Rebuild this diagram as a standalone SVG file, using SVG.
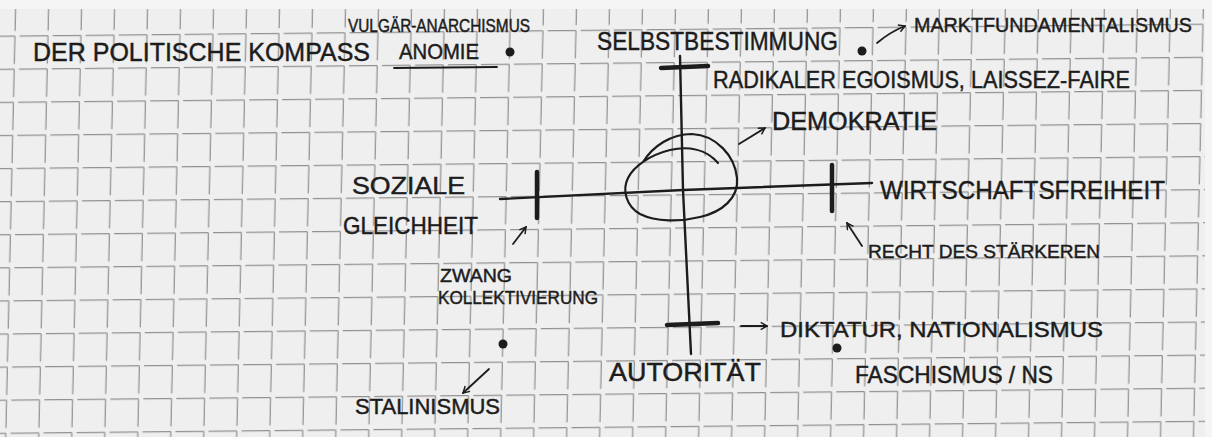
<svg xmlns="http://www.w3.org/2000/svg" width="1212" height="437" viewBox="0 0 1212 437">
<defs>
<pattern id="grid" patternUnits="userSpaceOnUse" x="0" y="0" width="33" height="33.1" patternTransform="matrix(1 -0.01 -0.023 1 -17.3 35.8)">
<path d="M4 0.7 H32.3 M32.3 0.7 V28.5" fill="none" stroke="#8f8f8f" stroke-width="1.2"/>
</pattern>
<marker id="head" viewBox="0 0 10 10" refX="8" refY="5" markerWidth="9" markerHeight="9" orient="auto" markerUnits="userSpaceOnUse">
<path d="M1 1 L8 5 L1 9" fill="none" stroke="#1c1c1c" stroke-width="1.6"/>
</marker>
</defs>
<style>
.ink{fill:#1c1c1c;stroke:#1c1c1c;stroke-width:0.45;font-family:"Liberation Sans",Arial,sans-serif;}
.line{fill:none;stroke:#1c1c1c;stroke-linecap:round;stroke-linejoin:round;}
.axis{stroke-width:2.4;}
.tick{stroke-width:4.5;}
.thin{stroke-width:1.8;}
.dot{fill:#1c1c1c;}
</style>
<rect x="0" y="0" width="1212" height="437" fill="#efefef"/>
<rect x="0" y="0" width="1212" height="437" fill="url(#grid)"/>
<rect x="0" y="0" width="1212" height="9" fill="#f5f5f5"/>
<rect x="1205" y="0" width="7" height="437" fill="#f5f5f5"/>

<g id="connectors">
<path class="line axis" d="M680 56 L683 190 L691 354"/>
<path class="line axis" d="M500 199 L683 190 L872 183"/>
<path class="line tick" d="M661 68 L708 66"/>
<path class="line tick" d="M667 325 L718 323"/>
<path class="line tick" d="M537 172 L537 218"/>
<path class="line tick" d="M832 165 L832 211"/>
<path class="line thin" d="M877 43 Q890 32 905 26" marker-end="url(#head)"/>
<path class="line thin" d="M739 144 L765 128" marker-end="url(#head)"/>
<path class="line thin" d="M513 244 L526 227" marker-end="url(#head)"/>
<path class="line thin" d="M862 246 L847 223" marker-end="url(#head)"/>
<path class="line thin" d="M741 326 L767 326" marker-end="url(#head)"/>
<path class="line thin" d="M489 369 L463 393" marker-end="url(#head)"/>
</g>

<g id="demokratie-loop">
<path class="line" stroke-width="2.2" d="M643 162 C653 146 671 134 692 134 C716 135 735 156 737 178 C739 198 722 212 700 217 C680 222 656 222 640 214 C626 206 622 190 628 178 C634 166 650 155 670 150 C688 146 706 149 718 163"/>
</g>

<g id="title"><text class="ink" x="33" y="61" font-size="26" textLength="337" lengthAdjust="spacingAndGlyphs">DER POLITISCHE KOMPASS</text></g>
<g id="vulgaer-anarchismus"><text class="ink" x="348" y="32" font-size="18" textLength="182" lengthAdjust="spacingAndGlyphs">VULGÄR-ANARCHISMUS</text></g>
<g id="anomie">
<text class="ink" x="399" y="59" font-size="22" textLength="80" lengthAdjust="spacingAndGlyphs">ANOMIE</text>
<path class="line thin" d="M394 68 L497 67"/>
<circle class="dot" cx="510" cy="52" r="4.5"/>
</g>
<g id="selbstbestimmung">
<text class="ink" x="597" y="50" font-size="26" textLength="241" lengthAdjust="spacingAndGlyphs">SELBSTBESTIMMUNG</text>
<circle class="dot" cx="862" cy="51" r="4.5"/>
</g>
<g id="marktfundamentalismus"><text class="ink" x="914" y="32" font-size="20.5" textLength="278" lengthAdjust="spacingAndGlyphs">MARKTFUNDAMENTALISMUS</text></g>
<g id="radikaler-egoismus"><text class="ink" x="713" y="88" font-size="24" textLength="417" lengthAdjust="spacingAndGlyphs">RADIKALER EGOISMUS, LAISSEZ-FAIRE</text></g>
<g id="demokratie"><text class="ink" x="772" y="130" font-size="25" textLength="165" lengthAdjust="spacingAndGlyphs">DEMOKRATIE</text></g>
<g id="soziale-gleichheit">
<text class="ink" x="352" y="194" font-size="24" textLength="113" lengthAdjust="spacingAndGlyphs">SOZIALE</text>
<text class="ink" x="343" y="234" font-size="24" textLength="135" lengthAdjust="spacingAndGlyphs">GLEICHHEIT</text>
</g>
<g id="wirtschaftsfreiheit"><text class="ink" x="880" y="199" font-size="26" textLength="285" lengthAdjust="spacingAndGlyphs">WIRTSCHAFTSFREIHEIT</text></g>
<g id="recht-des-staerkeren"><text class="ink" x="868" y="258" font-size="19" textLength="232" lengthAdjust="spacingAndGlyphs">RECHT DES STÄRKEREN</text></g>
<g id="zwang-kollektivierung">
<text class="ink" x="440" y="282" font-size="18" textLength="72" lengthAdjust="spacingAndGlyphs">ZWANG</text>
<text class="ink" x="438" y="304" font-size="19" textLength="160" lengthAdjust="spacingAndGlyphs">KOLLEKTIVIERUNG</text>
</g>
<g id="diktatur-nationalismus"><text class="ink" x="780" y="337" font-size="22" textLength="323" lengthAdjust="spacingAndGlyphs">DIKTATUR, NATIONALISMUS</text></g>
<g id="stalinismus">
<circle class="dot" cx="503" cy="344" r="4.5"/>
<text class="ink" x="355" y="414" font-size="22" textLength="145" lengthAdjust="spacingAndGlyphs">STALINISMUS</text>
</g>
<g id="autoritaet"><text class="ink" x="609" y="381" font-size="26" textLength="152" lengthAdjust="spacingAndGlyphs">AUTORITÄT</text></g>
<g id="faschismus">
<circle class="dot" cx="837" cy="348" r="4.5"/>
<text class="ink" x="855" y="383" font-size="24" textLength="198" lengthAdjust="spacingAndGlyphs">FASCHISMUS / NS</text>
</g>
</svg>
